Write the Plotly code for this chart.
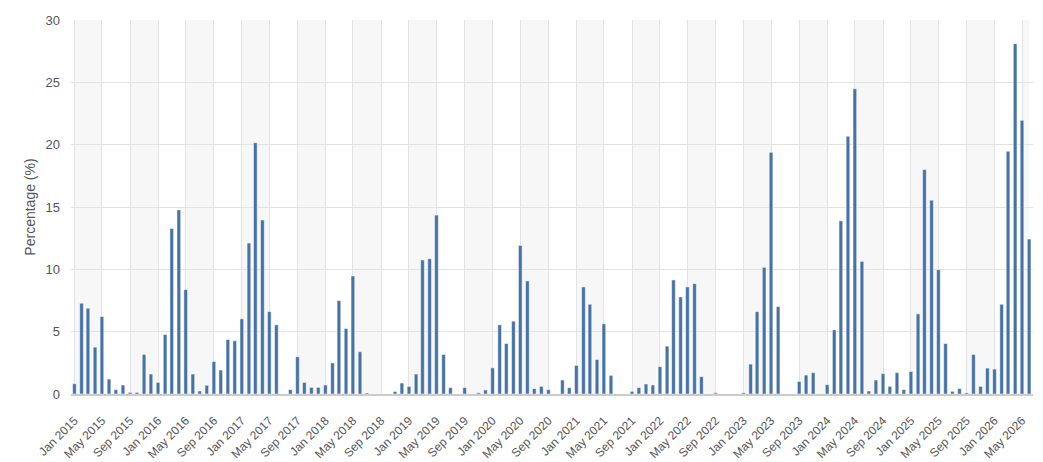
"""Monthly percentage bar chart, Jan 2015 - Jun 2026."""

import pandas as pd
import plotly.graph_objects as go

# Monthly values (%), one list per year
y2015 = [0.83, 7.28, 6.88, 3.76, 6.21, 1.2, 0.35, 0.72, 0.13, 0.13, 3.17, 1.6]
y2016 = [0.93, 4.77, 13.28, 14.77, 8.37, 1.6, 0.24, 0.7, 2.61, 1.92, 4.37, 4.27]
y2017 = [6.03, 12.11, 20.16, 13.95, 6.61, 5.55, 0, 0.35, 2.99, 0.93, 0.53, 0.53]
y2018 = [0.72, 2.5, 7.49, 5.25, 9.47, 3.39, 0.08, 0, 0, 0, 0.2, 0.88]
y2019 = [0.61, 1.6, 10.75, 10.85, 14.35, 3.17, 0.51, 0, 0.51, 0, 0.1, 0.32]
y2020 = [2.1, 5.55, 4.05, 5.84, 11.92, 9.07, 0.43, 0.61, 0.35, 0, 1.12, 0.51]
y2021 = [2.29, 8.59, 7.2, 2.77, 5.63, 1.49, 0, 0, 0.21, 0.51, 0.8, 0.72]
y2022 = [2.19, 3.84, 9.15, 7.79, 8.59, 8.85, 1.39, 0, 0.1, 0, 0, 0]
y2023 = [0.1, 2.4, 6.61, 10.16, 19.39, 7.01, 0, 0, 1.01, 1.52, 1.71, 0]
y2024 = [0.75, 5.15, 13.89, 20.67, 24.48, 10.64, 0.24, 1.12, 1.63, 0.61, 1.71, 0.35]
y2025 = [1.81, 6.43, 18.0, 15.55, 9.97, 4.05, 0.21, 0.43, 0.1, 3.17, 0.61, 2.08]
y2026 = [2.0, 7.2, 19.47, 28.1, 21.95, 12.43]

values = y2015 + y2016 + y2017 + y2018 + y2019 + y2020 + y2021 + y2022 + y2023 + y2024 + y2025 + y2026
months = pd.date_range("2015-01-01", periods=len(values), freq="MS")

BAR_COLOR = "#4572a7"
GRID_COLOR = "#e3e3e3"
BAND_COLOR = "#f7f7f7"
TEXT_COLOR = "#555555"

fig = go.Figure()
fig.add_trace(
    go.Bar(
        x=months,
        y=values,
        width=16 * 86400000,
        marker=dict(color=BAR_COLOR, line=dict(color="white", width=0.5)),
        hovertemplate="%{x|%b %Y}: %{y:.2f}%<extra></extra>",
    )
)

# alternating background bands between the 4-month ticks
band_edges = list(pd.date_range("2015-01-01", months[-1] + pd.DateOffset(months=4), freq="4MS"))
for i in range(0, len(band_edges) - 1, 2):
    x1 = min(band_edges[i + 1], months[-1])
    if band_edges[i] >= x1:
        continue
    fig.add_shape(
        type="rect",
        xref="x",
        yref="paper",
        x0=band_edges[i],
        x1=x1,
        y0=0,
        y1=1,
        fillcolor=BAND_COLOR,
        line=dict(width=0),
        layer="below",
    )

# the page body has an 8px margin, so the figure is sized/placed to compensate
fig.update_layout(
    width=1035,
    height=454,
    margin=dict(l=63, r=10, t=12, b=68, autoexpand=False),
    paper_bgcolor="white",
    plot_bgcolor="white",
    showlegend=False,
    font=dict(family="Liberation Sans, Arial, sans-serif", color=TEXT_COLOR, size=12),
    xaxis=dict(
        type="date",
        automargin=False,
        range=["2014-12-17", "2026-06-18"],
        tick0="2015-01-01",
        dtick="M4",
        tickformat="%b %Y",
        tickangle=-45,
        showgrid=True,
        gridcolor=GRID_COLOR,
        gridwidth=1,
        showline=True,
        linecolor="#cccccc",
        linewidth=2,
        ticks="outside",
        ticklen=13,
        tickcolor="rgba(0,0,0,0)",
        tickfont=dict(size=12, color=TEXT_COLOR),
        layer="below traces",
    ),
    yaxis=dict(
        automargin=False,
        range=[0, 30],
        dtick=5,
        showgrid=True,
        gridcolor=GRID_COLOR,
        gridwidth=1,
        zeroline=False,
        ticks="",
        ticklabelstandoff=10,
        tickfont=dict(size=13, color=TEXT_COLOR),
        title=dict(text="Percentage (%)", font=dict(size=14, color=TEXT_COLOR), standoff=6),
    ),
)

fig.write_html("out.html")
